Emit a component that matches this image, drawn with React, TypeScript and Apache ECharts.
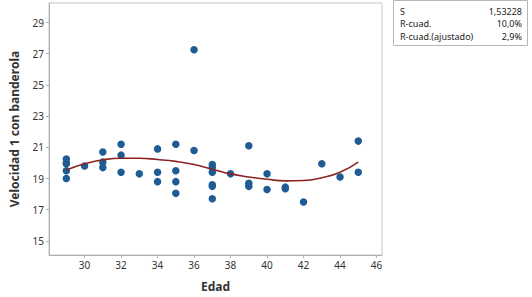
import React, { useEffect, useRef } from "react";
import * as echarts from "echarts";

const ages = [29, 29, 29, 29, 29, 30, 31, 31, 31, 32, 32, 32, 33, 34, 34, 34, 35, 35, 35, 35, 36, 36, 37, 37, 37, 37, 37, 37, 38, 39, 39, 39, 40, 40, 41, 41, 42, 43, 44, 45, 45];
const speeds = [20.25, 20.0, 19.95, 19.5, 19.0, 19.8, 20.7, 20.05, 19.7, 21.2, 20.5, 19.4, 19.3, 20.9, 19.4, 18.8, 21.2, 19.5, 18.8, 18.05, 27.25, 20.8, 19.9, 19.7, 19.4, 18.6, 18.5, 17.7, 19.3, 21.1, 18.7, 18.5, 19.3, 18.3, 18.45, 18.35, 17.5, 19.95, 19.1, 21.4, 19.4];

const fitX = [29, 30, 31, 32, 33, 34, 35, 36, 37, 38, 39, 40, 41, 42, 43, 44, 45];
const fitY = [19.55, 19.95, 20.2, 20.3, 20.3, 20.22, 20.1, 19.9, 19.6, 19.3, 19.1, 18.95, 18.85, 18.87, 19.05, 19.4, 20.05];

const xTicks = [30, 32, 34, 36, 38, 40, 42, 44, 46];
const yTicks = [15, 17, 19, 21, 23, 25, 27, 29];

const statNames = ["S", "R-cuad.", "R-cuad.(ajustado)"];
const statValues = ["1,53228", "10,0%", "2,9%"];

const FONT = "'Noto Sans', 'DejaVu Sans', sans-serif";

export default function App() {
  const ref = useRef<HTMLDivElement>(null);
  useEffect(() => {
    document.body.style.margin = "0";
    if (!ref.current) return;
    const chart = echarts.init(ref.current, undefined, { renderer: "svg" });
    const graphics: any[] = [
      {
        type: "rect",
        shape: { x: 393.5, y: 0.5, width: 134, height: 45 },
        style: { fill: "#fff", stroke: "#b8b8b8", lineWidth: 1 },
      },
    ];
    statNames.forEach((n, i) => {
      graphics.push({
        type: "text",
        x: 400,
        y: 11 + i * 12.5,
        style: { text: n, fill: "#222", font: `9px ${FONT}`, textVerticalAlign: "middle", textAlign: "left" },
      });
      graphics.push({
        type: "text",
        x: 522,
        y: 11 + i * 12.5,
        style: { text: statValues[i], fill: "#222", font: `9px ${FONT}`, textVerticalAlign: "middle", textAlign: "right" },
      });
    });
    chart.setOption({
      animation: false,
      backgroundColor: "#fff",
      grid: { left: 36, right: 150, top: 3, bottom: 36, show: true, borderColor: "#c4c4c4", borderWidth: 1 },
      xAxis: {
        type: "value",
        min: 28.05,
        max: 46.3,
        name: "Edad",
        nameLocation: "middle",
        nameGap: 25,
        nameTextStyle: { fontFamily: FONT, fontSize: 12, fontWeight: "bold", color: "#333" },
        axisLine: { show: true, lineStyle: { color: "#b0b0b0" } },
        axisTick: { show: true, length: 3, customValues: xTicks, lineStyle: { color: "#b0b0b0" } },
        axisLabel: { customValues: xTicks, fontFamily: FONT, fontSize: 10, color: "#333", margin: 5 },
        splitLine: { show: false },
      },
      yAxis: {
        type: "value",
        min: 14.1,
        max: 30.25,
        name: "Velocidad 1 con banderola",
        nameLocation: "middle",
        nameGap: 29,
        nameTextStyle: { fontFamily: FONT, fontSize: 12, fontWeight: "bold", color: "#333" },
        axisLine: { show: true, lineStyle: { color: "#b0b0b0" } },
        axisTick: { show: true, length: 3, customValues: yTicks, lineStyle: { color: "#b0b0b0" } },
        axisLabel: { customValues: yTicks, fontFamily: FONT, fontSize: 10, color: "#333", margin: 5 },
        splitLine: { show: false },
      },
      series: [
        {
          type: "scatter",
          data: ages.map((a, i) => [a, speeds[i]]),
          symbolSize: 7.5,
          itemStyle: { color: "#1f5c94", opacity: 1 },
          z: 2,
        },
        {
          type: "line",
          data: fitX.map((x, i) => [x, fitY[i]]),
          smooth: 0.5,
          showSymbol: false,
          symbol: "none",
          lineStyle: { color: "#8b2323", width: 1.6 },
          z: 3,
        },
      ],
      graphic: graphics,
    });
    return () => chart.dispose();
  }, []);
  return <div ref={ref} style={{ width: 532, height: 297 }} />;
}
